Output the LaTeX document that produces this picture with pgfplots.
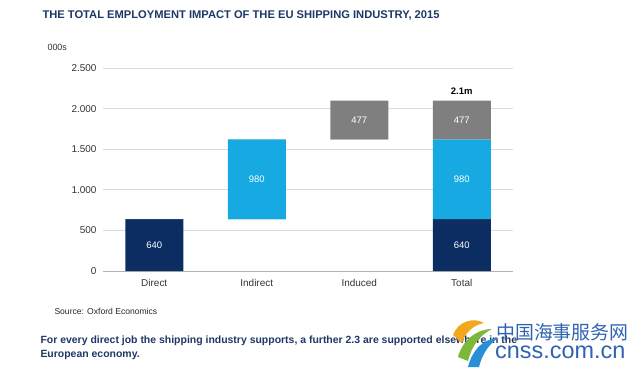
\documentclass[border=0pt]{standalone}
\usepackage{pgfplots}
\pgfplotsset{compat=1.18}
\usepackage{fontspec}
\setmainfont{Liberation Sans}
\newfontfamily\cjk{Noto Sans CJK SC}
\definecolor{navy}{HTML}{0B2D62}
\definecolor{lblue}{HTML}{17A9E1}
\definecolor{dgray}{HTML}{7F7F7F}
\definecolor{titlec}{HTML}{1E3766}
\definecolor{gridc}{HTML}{DADADA}
\definecolor{wm}{HTML}{2F63B0}
\definecolor{logoy}{HTML}{F2A81D}
\definecolor{logog}{HTML}{7DB83A}
\definecolor{logob}{HTML}{2A8FD6}
\begin{document}
\begin{tikzpicture}[x=1bp,y=1bp]
\useasboundingbox (0,0) rectangle (640,369);
\node[anchor=west, text=titlec, font=\bfseries\fontsize{11.2}{13}\selectfont] at (39,354) {THE TOTAL EMPLOYMENT IMPACT OF THE EU SHIPPING INDUSTRY, 2015};
\node[anchor=west, text=black!80, font=\fontsize{9}{10}\selectfont] at (44,322) {000s};
\begin{axis}[
  at={(103bp,98bp)}, anchor=south west,
  scale only axis, width=410bp, height=203bp,
  bar width=58bp,
  xmin=-0.5, xmax=3.5, ymin=0, ymax=2500,
  xtick={0,1,2,3}, xticklabels={Direct,Indirect,Induced,Total},
  ytick={0,500,1000,1500,2000,2500},
  ymajorgrids, grid style={gridc, line width=0.8pt},
  axis x line*=bottom, axis y line*=left,
  x axis line style={draw=black!30, line width=0.8pt, -},
  y axis line style={draw=none},
  major tick length=0pt,
  tick label style={font=\fontsize{10}{11}\selectfont, text=black!80},
  yticklabel style={xshift=-3bp},
  xticklabel style={yshift=-5bp},
  /pgf/number format/1000 sep={.},
  /pgf/number format/assume math mode=true,
]
\addplot[ybar, stack plots=y, bar shift=0pt, fill=none, draw=none] coordinates {(0,0) (1,640) (2,1620) (3,0)};
\addplot[ybar, stack plots=y, bar shift=0pt, fill=navy, draw=none] coordinates {(0,640) (1,0) (2,0) (3,640)};
\addplot[ybar, stack plots=y, bar shift=0pt, fill=lblue, draw=none] coordinates {(0,0) (1,980) (2,0) (3,980)};
\addplot[ybar, stack plots=y, bar shift=0pt, fill=dgray, draw=none] coordinates {(0,0) (1,0) (2,477) (3,477)};
\addplot[stack plots=false, draw=none, mark=none, point meta=explicit symbolic,
  nodes near coords, nodes near coords align={center},
  every node near coord/.append style={text=white, font=\fontsize{9.5}{11}\selectfont}]
  coordinates {(0,320)[640] (1,1130)[980] (2,1858.5)[477] (3,320)[640] (3,1130)[980] (3,1858.5)[477]};
\node[anchor=south, font=\bfseries\fontsize{9.5}{11}\selectfont] at (axis cs:3,2097) [yshift=3bp] {2.1m};
\end{axis}
\node[anchor=west, text=black!85, font=\fontsize{8.6}{10}\selectfont] at (51,58) {Source: Oxford Economics};
\node[anchor=north west, align=left, text=titlec, font=\bfseries\fontsize{10.5}{14}\selectfont] at (37,37) {For every direct job the shipping industry supports, a further 2.3 are supported elsewhere in the\\European economy.};
% watermark logo (decoration)
\fill[white, opacity=0.75] (500,14) rectangle (560,26);
\fill[logoy] (453,34) .. controls (458,48) and (474,52) .. (484,46) .. controls (474,44) and (466,38) .. (462,26) -- cycle;
\fill[logog] (458,12) .. controls (462,28) and (476,40) .. (492,40) .. controls (480,34) and (472,24) .. (468,8) -- cycle;
\fill[logob] (468,2) .. controls (472,18) and (482,30) .. (498,31) .. controls (488,24) and (482,14) .. (479,2) -- cycle;
\node[anchor=west, text=wm, inner sep=0pt, font=\cjk\fontsize{19}{20}\selectfont] at (496,37) {中国海事服务网};
\node[anchor=west, text=wm, inner sep=0pt, font=\fontsize{23.5}{24}\selectfont] at (495,17) {cnss.com.cn};
\end{tikzpicture}
\end{document}
